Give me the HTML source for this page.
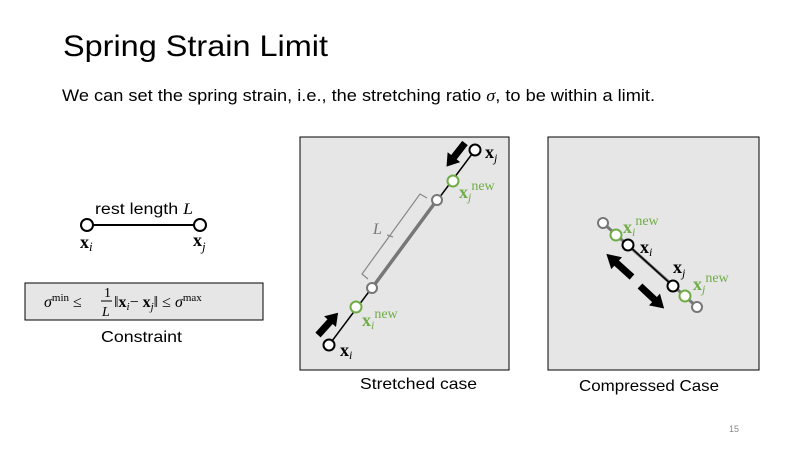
<!DOCTYPE html>
<html><head><meta charset="utf-8"><style>
body{margin:0;background:#fff;}
svg{display:block;font-family:"Liberation Sans",sans-serif;}
.m{font-family:"Liberation Serif",serif;}
</style></head><body>
<svg width="800" height="450" viewBox="0 0 800 450">
<defs>
<path id="arr" d="M0,-3.5 L18,-3.5 L18,-8 L30,0 L18,8 L18,3.5 L0,3.5z" fill="#000"/>
</defs>
<text x="63" y="56" font-size="30" fill="#000" textLength="265" lengthAdjust="spacingAndGlyphs">Spring Strain Limit</text>
<text x="62" y="101" font-size="17" fill="#000" textLength="593" lengthAdjust="spacingAndGlyphs">We can set the spring strain, i.e., the stretching ratio <tspan class="m" font-style="italic">σ</tspan>, to be within a limit.</text>

<g>
<text x="95" y="214" font-size="15.5" textLength="98" lengthAdjust="spacingAndGlyphs">rest length <tspan class="m" font-style="italic">L</tspan></text>
<line x1="87" y1="225" x2="200" y2="225" stroke="#000" stroke-width="2"/>
<circle cx="87" cy="225" r="6" fill="#fff" stroke="#000" stroke-width="2"/>
<circle cx="200" cy="225" r="6" fill="#fff" stroke="#000" stroke-width="2"/>
<text class="m" x="80" y="248" font-size="18" font-weight="bold">x<tspan font-size="13" font-style="italic" font-weight="normal" dy="3">i</tspan></text>
<text class="m" x="193" y="246" font-size="18" font-weight="bold">x<tspan font-size="13" font-style="italic" font-weight="normal" dy="5">j</tspan></text>
</g>
<g>
<rect x="25" y="283" width="238" height="37" fill="#e6e6e6" stroke="#000" stroke-width="1"/>
<text class="m" x="44" y="307" font-size="16"><tspan font-style="italic">σ</tspan><tspan font-size="11" dy="-6">min</tspan><tspan dy="6"> ≤ </tspan></text>
<text class="m" x="104" y="297" font-size="14">1</text>
<line x1="101" y1="301" x2="112" y2="301" stroke="#000"/>
<text class="m" x="102" y="316" font-size="14" font-style="italic">L</text>
<text class="m" x="114" y="307" font-size="16">‖<tspan font-weight="bold">x</tspan><tspan font-size="11" font-style="italic" dy="3">i</tspan><tspan dy="-3">−  </tspan><tspan font-weight="bold">x</tspan><tspan font-size="11" font-style="italic" dy="3">j</tspan><tspan dy="-3">‖ ≤ </tspan><tspan font-style="italic">σ</tspan><tspan font-size="11" dy="-6">max</tspan></text>
</g>
<text x="101" y="342" font-size="16" textLength="81" lengthAdjust="spacingAndGlyphs">Constraint</text>

<g>
<rect x="300" y="137" width="209" height="233" fill="#e6e6e6" stroke="#000" stroke-width="1"/>
<line x1="329" y1="345" x2="475" y2="150" stroke="#000" stroke-width="1.5"/>
<line x1="372" y1="288" x2="437" y2="200" stroke="#777" stroke-width="3.5"/>
<path d="M368,279 l-6,-5 L420,194 l7,4 M393,237 l-6,-2" fill="none" stroke="#888" stroke-width="1.2"/>
<text class="m" x="373" y="234" font-size="16" font-style="italic" fill="#777">L</text>
<circle cx="372" cy="288" r="5" fill="#fff" stroke="#777" stroke-width="2"/>
<circle cx="437" cy="200" r="5" fill="#fff" stroke="#777" stroke-width="2"/>
<circle cx="356" cy="307" r="5.5" fill="#fff" stroke="#70ad47" stroke-width="2"/>
<circle cx="453" cy="181" r="5.5" fill="#fff" stroke="#70ad47" stroke-width="2"/>
<circle cx="329" cy="345" r="5.5" fill="#fff" stroke="#000" stroke-width="2"/>
<circle cx="475" cy="150" r="5.5" fill="#fff" stroke="#000" stroke-width="2"/>
<use href="#arr" transform="translate(318,335) rotate(-48)"/>
<use href="#arr" transform="translate(465,143) rotate(128)"/>
<text class="m" x="340" y="356" font-size="18" font-weight="bold">x<tspan font-size="12" font-style="italic" font-weight="normal" dy="3">i</tspan></text>
<text class="m" x="485" y="158" font-size="18" font-weight="bold">x<tspan font-size="12" font-style="italic" font-weight="normal" dy="4">j</tspan></text>
<text class="m" x="362" y="326" font-size="18" font-weight="bold" fill="#70ad47">x<tspan font-size="12" font-style="italic" font-weight="normal" dy="3">i</tspan><tspan font-size="14" font-weight="normal" dy="-11">new</tspan></text>
<text class="m" x="459" y="198" font-size="18" font-weight="bold" fill="#70ad47">x<tspan font-size="12" font-style="italic" font-weight="normal" dy="3">j</tspan><tspan font-size="14" font-weight="normal" dy="-11">new</tspan></text>
</g>
<text x="360" y="389" font-size="16" textLength="117" lengthAdjust="spacingAndGlyphs">Stretched case</text>

<g>
<rect x="548" y="137" width="211" height="233" fill="#e6e6e6" stroke="#000" stroke-width="1"/>
<line x1="603" y1="223" x2="697" y2="307" stroke="#777" stroke-width="3"/>
<line x1="628" y1="245" x2="673" y2="286" stroke="#000" stroke-width="1.5"/>
<circle cx="603" cy="223" r="5" fill="#fff" stroke="#777" stroke-width="2"/>
<circle cx="697" cy="307" r="5" fill="#fff" stroke="#777" stroke-width="2"/>
<circle cx="616" cy="235" r="5.5" fill="#fff" stroke="#70ad47" stroke-width="2"/>
<circle cx="685" cy="296" r="5.5" fill="#fff" stroke="#70ad47" stroke-width="2"/>
<circle cx="628" cy="245" r="5.5" fill="#fff" stroke="#000" stroke-width="2"/>
<circle cx="673" cy="286" r="5.5" fill="#fff" stroke="#000" stroke-width="2"/>
<use href="#arr" transform="translate(632,277) rotate(222) scale(1.15,1)"/>
<use href="#arr" transform="translate(640,286) rotate(43) scale(1.1,1)"/>
<text class="m" x="640" y="253" font-size="18" font-weight="bold">x<tspan font-size="12" font-style="italic" font-weight="normal" dy="3">i</tspan></text>
<text class="m" x="673" y="273" font-size="18" font-weight="bold">x<tspan font-size="12" font-style="italic" font-weight="normal" dy="4">j</tspan></text>
<text class="m" x="623" y="233" font-size="18" font-weight="bold" fill="#70ad47">x<tspan font-size="12" font-style="italic" font-weight="normal" dy="3">i</tspan><tspan font-size="14" font-weight="normal" dy="-11">new</tspan></text>
<text class="m" x="693" y="290" font-size="18" font-weight="bold" fill="#70ad47">x<tspan font-size="12" font-style="italic" font-weight="normal" dy="3">j</tspan><tspan font-size="14" font-weight="normal" dy="-11">new</tspan></text>
</g>
<text x="579" y="391" font-size="16" textLength="140" lengthAdjust="spacingAndGlyphs">Compressed Case</text>
<text x="729" y="432" font-size="9" fill="#888">15</text>
</svg>
</body></html>
